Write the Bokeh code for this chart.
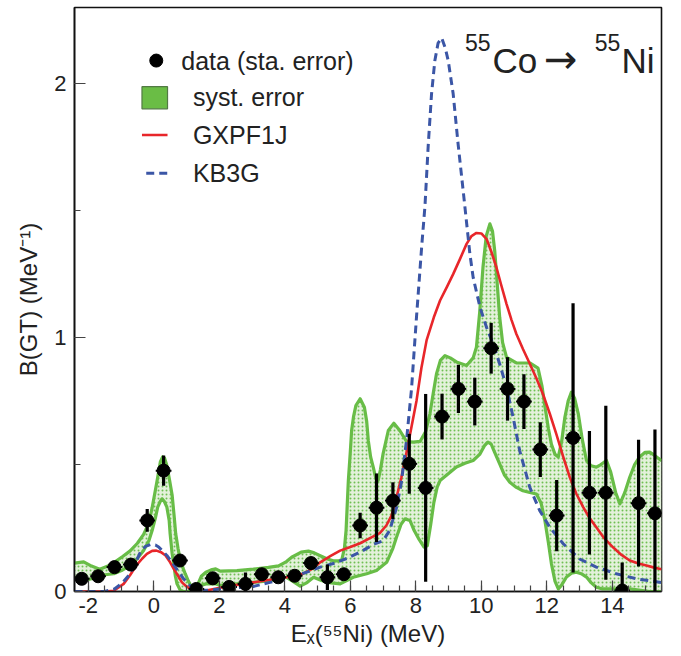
import numpy as np
from bokeh.plotting import figure
from bokeh.models import SingleIntervalTicker
from bokeh.core.properties import value
from bokeh.embed import file_html
from bokeh.resources import INLINE

# ---------------- data ----------------
data_x = [-2.2, -1.7, -1.2, -0.7, -0.2, 0.3, 0.8, 1.3, 1.8, 2.3, 2.8, 3.3, 3.8, 4.3,
          4.8, 5.3, 5.8, 6.3, 6.8, 7.3, 7.8, 8.3, 8.8, 9.3, 9.8, 10.3, 10.8, 11.3,
          11.8, 12.3, 12.8, 13.3, 13.8, 14.3, 14.8, 15.3]
data_y = [0.05, 0.06, 0.096, 0.106, 0.28, 0.476, 0.122, 0.01, 0.052, 0.018, 0.03, 0.068,
          0.056, 0.062, 0.112, 0.056, 0.068, 0.26, 0.33, 0.358, 0.503, 0.408, 0.689, 0.798,
          0.748, 0.958, 0.798, 0.748, 0.559, 0.299, 0.605, 0.389, 0.389, 0.004, 0.348, 0.308]
data_err = [0.02, 0.02, 0.02, 0.02, 0.045, 0.06, 0.02, 0.015, 0.02, 0.015, 0.045, 0.02,
            0.02, 0.02, 0.02, 0.05, 0.02, 0.05, 0.135, 0.072, 0.118, 0.37, 0.09, 0.095,
            0.094, 0.1, 0.125, 0.108, 0.108, 0.14, 0.53, 0.243, 0.343, 0.11, 0.25, 0.33]

syst_up_x = [-2.42, -2.14, -1.9, -1.65, -1.4, -1.17, -0.95, -0.72, -0.5, -0.31, -0.15, -0.05,
             0.05, 0.12, 0.2, 0.27, 0.33, 0.4, 0.48, 0.56, 0.62, 0.67, 0.74, 0.81, 0.9, 0.96,
             1.06, 1.16, 1.25, 1.35, 1.45, 1.59, 1.75, 1.89, 2.03, 2.54, 3.04, 3.5, 3.81, 4.05,
             4.21, 4.5, 4.72, 4.9, 5.08, 5.3, 5.48, 5.65, 5.74, 5.82, 5.87, 5.94, 6.0, 6.04,
             6.1, 6.17, 6.3, 6.43, 6.5, 6.55, 6.62, 6.7, 6.78, 6.85, 6.92, 7.0, 7.16, 7.33,
             7.51, 7.72, 7.92, 8.13, 8.3, 8.43, 8.53, 8.63, 8.75, 8.89, 9.05, 9.24, 9.55, 9.75,
             9.85, 9.95, 10.05, 10.15, 10.26, 10.34, 10.41, 10.48, 10.56, 10.65, 10.77, 11.07,
             11.48, 11.73, 11.85, 11.94, 12.05, 12.14, 12.25, 12.35, 12.45, 12.55, 12.65, 12.75,
             12.85, 12.96, 13.08, 13.21, 13.35, 13.51, 13.65, 13.82, 13.95, 14.1, 14.23, 14.38,
             14.53, 14.68, 14.83, 15.0, 15.14, 15.3, 15.5]
syst_up_y = [0.112, 0.117, 0.1, 0.088, 0.1, 0.118, 0.138, 0.16, 0.19, 0.225, 0.27, 0.33,
             0.4, 0.45, 0.51, 0.53, 0.525, 0.496, 0.44, 0.38, 0.3, 0.227, 0.17, 0.123, 0.09,
             0.07, 0.04, 0.017, 0.01, 0.03, 0.06, 0.076, 0.085, 0.089, 0.08, 0.082, 0.088,
             0.095, 0.101, 0.118, 0.135, 0.155, 0.159, 0.152, 0.141, 0.128, 0.121, 0.121,
             0.125, 0.17, 0.24, 0.437, 0.55, 0.634, 0.69, 0.732, 0.759, 0.726, 0.67, 0.594,
             0.53, 0.49, 0.445, 0.437, 0.48, 0.542, 0.634, 0.663, 0.634, 0.59, 0.588, 0.591,
             0.63, 0.7, 0.78, 0.857, 0.91, 0.929, 0.92, 0.904, 0.89, 0.92, 0.962, 1.1, 1.277,
             1.4, 1.448, 1.42, 1.34, 1.22, 1.08, 0.98, 0.922, 0.9, 0.9, 0.88, 0.81, 0.73, 0.64,
             0.58, 0.54, 0.53, 0.59, 0.686, 0.75, 0.785, 0.76, 0.7, 0.6, 0.516, 0.495, 0.49,
             0.5, 0.516, 0.47, 0.39, 0.345, 0.39, 0.45, 0.5, 0.53, 0.548, 0.549, 0.535, 0.515]

syst_lo_x = [-2.42, -2.14, -1.9, -1.68, -1.22, -0.95, -0.72, -0.5, -0.31, -0.15, -0.05, 0.05,
             0.12, 0.2, 0.25, 0.32, 0.4, 0.47, 0.5, 0.56, 0.61, 0.66, 0.71, 0.81, 0.9, 1.16,
             1.3, 1.45, 1.6, 1.9, 2.03, 2.54, 3.04, 3.55, 4.05, 4.25, 4.47, 4.68, 4.88, 5.08,
             5.28, 5.69, 6.09, 6.5, 6.8, 7.11, 7.3, 7.41, 7.55, 7.67, 7.82, 7.95, 8.1, 8.25,
             8.35, 8.45, 8.55, 8.65, 8.74, 9.0, 9.24, 9.5, 9.75, 9.95, 10.1, 10.2, 10.3, 10.4,
             10.56, 10.7, 10.87, 11.07, 11.27, 11.48, 11.68, 11.82, 11.94, 12.05, 12.14, 12.25,
             12.35, 12.45, 12.6, 12.75, 12.9, 13.05, 13.21, 13.35, 13.51, 13.7, 13.92, 14.53,
             15.14, 15.5]
syst_lo_y = [0.056, 0.043, 0.05, 0.063, 0.07, 0.085, 0.102, 0.13, 0.161, 0.2, 0.24, 0.29,
             0.332, 0.355, 0.365, 0.355, 0.332, 0.28, 0.227, 0.15, 0.109, 0.06, 0.03, 0.005,
             0.0, 0.0, 0.01, 0.025, 0.03, 0.03, 0.024, 0.03, 0.036, 0.043, 0.056, 0.04, 0.021,
             0.035, 0.056, 0.045, 0.036, 0.03, 0.056, 0.07, 0.083, 0.115, 0.17, 0.214, 0.265,
             0.286, 0.28, 0.24, 0.205, 0.175, 0.18, 0.26, 0.35, 0.41, 0.437, 0.465, 0.49, 0.505,
             0.516, 0.54, 0.575, 0.588, 0.58, 0.55, 0.503, 0.46, 0.43, 0.41, 0.397, 0.39, 0.384,
             0.35, 0.28, 0.19, 0.109, 0.04, 0.01, 0.025, 0.057, 0.072, 0.076, 0.07, 0.057,
             0.035, 0.017, 0.01, 0.01, 0.01, 0.0, 0.0]

gxpf1j_x = [-2.42, -1.5, -1.22, -0.92, -0.72, -0.52, -0.35, -0.21, -0.05, 0.08, 0.22, 0.36,
            0.5, 0.61, 0.75, 0.86, 1.0, 1.12, 1.3, 1.6, 2.03, 2.5, 3.04, 3.5, 4.05, 4.56, 4.85,
            5.08, 5.4, 5.69, 6.0, 6.3, 6.6, 6.9, 7.1, 7.26, 7.41, 7.56, 7.72, 7.87, 8.02, 8.17,
            8.33, 8.55, 8.74, 8.95, 9.14, 9.35, 9.55, 9.7, 9.85, 10.0, 10.16, 10.3, 10.46, 10.6,
            10.77, 10.92, 11.07, 11.27, 11.48, 11.68, 11.88, 12.09, 12.29, 12.5, 12.7, 12.9,
            13.11, 13.3, 13.51, 13.75, 14.02, 14.27, 14.53, 14.8, 15.04, 15.25, 15.5]
gxpf1j_y = [0.0, 0.0, 0.003, 0.03, 0.065, 0.105, 0.13, 0.148, 0.16, 0.161, 0.155, 0.142,
            0.115, 0.089, 0.06, 0.036, 0.02, 0.01, 0.004, 0.004, 0.015, 0.025, 0.036, 0.045,
            0.056, 0.07, 0.09, 0.115, 0.14, 0.161, 0.175, 0.19, 0.21, 0.23, 0.26, 0.3, 0.37,
            0.45, 0.55, 0.65, 0.75, 0.88, 0.99, 1.08, 1.146, 1.2, 1.25, 1.31, 1.369, 1.4,
            1.412, 1.41, 1.388, 1.34, 1.277, 1.21, 1.132, 1.07, 1.014, 0.955, 0.897, 0.84,
            0.778, 0.7, 0.62, 0.53, 0.45, 0.385, 0.332, 0.29, 0.253, 0.21, 0.174, 0.145,
            0.122, 0.11, 0.102, 0.095, 0.088]

kb3g_x = [-2.42, -1.5, -1.2, -0.95, -0.72, -0.55, -0.41, -0.25, -0.1, 0.05, 0.15, 0.4, 0.66,
          0.91, 1.16, 1.4, 1.7, 2.03, 2.55, 3.04, 3.55, 4.05, 4.67, 5.08, 5.48, 5.89, 6.3,
          6.7, 7.0, 7.2, 7.41, 7.56, 7.72, 7.87, 8.02, 8.18, 8.28, 8.38, 8.48, 8.58, 8.68,
          8.79, 8.9, 8.99, 9.14, 9.29, 9.5, 9.65, 9.75, 9.96, 10.16, 10.36, 10.56, 10.77,
          10.97, 11.17, 11.48, 11.78, 12.09, 12.5, 13.0, 13.51, 14.12, 14.73, 15.5]
kb3g_y = [0.0, 0.0, 0.01, 0.035, 0.07, 0.115, 0.155, 0.178, 0.185, 0.183, 0.175, 0.142,
          0.096, 0.05, 0.017, 0.005, 0.005, 0.01, 0.015, 0.02, 0.036, 0.05, 0.076, 0.096,
          0.11, 0.13, 0.155, 0.185, 0.2, 0.24, 0.33, 0.43, 0.6, 0.8, 1.08, 1.36, 1.52, 1.76,
          1.96, 2.09, 2.16, 2.18, 2.14, 2.09, 1.96, 1.763, 1.513, 1.33, 1.237, 1.119, 1.04,
          0.975, 0.896, 0.804, 0.686, 0.555, 0.41, 0.319, 0.253, 0.188, 0.128, 0.096, 0.07,
          0.05, 0.035]

x_ticks = [-2, 0, 2, 4, 6, 8, 10, 12, 14]
x_tick_labels = ["-2", "0", "2", "4", "6", "8", "10", "12", "14"]
y_ticks = [0, 1, 2]
y_tick_labels = ["0", "1", "2"]

legend_labels = ["data (sta. error)", "syst. error", "GXPF1J", "KB3G"]

# ---------------- styles ----------------
FONT = "Liberation Sans"
GREEN = "#68bd47"
RED = "#e8262a"
BLUE = "#3b56a6"
TXT = "#222222"

p = figure(width=681, height=656, x_range=(-2.42, 15.5), y_range=(0.0, 2.3),
           output_backend="svg", toolbar_location=None,
           min_border_left=74, min_border_right=20, min_border_top=7, min_border_bottom=65)
p.background_fill_color = "white"
p.border_fill_color = "white"
p.grid.visible = False
p.outline_line_color = "#111111"
p.outline_line_width = 1.6
p.outline_line_alpha = 1.0

# systematic error band
band_x = list(syst_up_x) + list(syst_lo_x[::-1])
band_y = list(syst_up_y) + list(syst_lo_y[::-1])
p.patch(band_x, band_y, fill_color="#e3f1da", fill_alpha=1.0, line_color=None,
        hatch_pattern="dot", hatch_color="#6fbf52", hatch_scale=4, hatch_weight=1.3)
p.line(syst_up_x, syst_up_y, line_color=GREEN, line_width=3.2, line_join="round")
p.line(syst_lo_x, syst_lo_y, line_color=GREEN, line_width=3.2, line_join="round")

# model curves
p.line(gxpf1j_x, gxpf1j_y, line_color=RED, line_width=2.6, line_join="round")
p.line(kb3g_x, kb3g_y, line_color=BLUE, line_width=3, line_dash="8 5", line_join="round")

# data with statistical errors
dx = np.array(data_x)
dy = np.array(data_y)
de = np.array(data_err)
p.segment(dx, dy - de, dx, dy + de, line_color="black", line_width=3.2)
p.segment(dx - 0.24, dy, dx + 0.24, dy, line_color="black", line_width=2)
p.scatter(dx, dy, size=13, fill_color="black", line_color="black")

# legend (drawn by hand)
p.scatter([0.076], [2.091], size=13, fill_color="black", line_color="black")
p.quad(left=[-0.36], right=[0.42], bottom=[1.901], top=[1.988],
       fill_color="#6abd45", line_color="#527a44", line_width=1.2)
p.line([-0.36, 0.42], [1.798, 1.798], line_color=RED, line_width=2.6)
p.line([-0.23, 0.42], [1.647, 1.647], line_color=BLUE, line_width=3, line_dash="8 5")
p.text(x=[0.84, 1.195, 1.195, 1.195], y=[2.091, 1.946, 1.798, 1.647], text=legend_labels,
       text_font=value(FONT), text_font_size="25px", text_color=TXT,
       text_baseline="middle", text_align="left")

# reaction label
p.text(x=[10.34, 14.28], y=[2.093, 2.093], text=["Co", "Ni"], text_font=value(FONT),
       text_font_size="35px", text_color=TXT, text_baseline="alphabetic", text_align="left")
p.text(x=[9.5, 13.46], y=[2.163, 2.163], text=["55", "55"], text_font=value(FONT),
       text_font_size="23px", text_color=TXT, text_baseline="alphabetic", text_align="left")
p.text(x=[11.91], y=[2.099], text=["\u2192"], text_font=value("DejaVu Sans"),
       text_font_size="40px", text_color=TXT, text_baseline="alphabetic", text_align="left")

# axes
p.xaxis.ticker = SingleIntervalTicker(interval=2, num_minor_ticks=4)
p.yaxis.ticker = SingleIntervalTicker(interval=1, num_minor_ticks=2)
p.xaxis.major_label_overrides = {float(t): s for t, s in zip(x_ticks, x_tick_labels)}
p.yaxis.major_label_overrides = {float(t): s for t, s in zip(y_ticks, y_tick_labels)}
for ax in (p.xaxis, p.yaxis):
    ax.axis_line_color = "#111111"
    ax.axis_line_width = 1.6
    ax.major_tick_in = 11
    ax.major_tick_out = 0
    ax.minor_tick_in = 6
    ax.minor_tick_out = 0
    ax.major_tick_line_color = "#444444"
    ax.minor_tick_line_color = "#444444"
    ax.major_tick_line_width = 1.2
    ax.minor_tick_line_width = 1.2
    ax.major_label_text_font = FONT
    ax.major_label_text_font_size = "22px"
    ax.major_label_text_color = TXT
    ax.axis_label_text_font = FONT
    ax.axis_label_text_font_size = "24px"
    ax.axis_label_text_font_style = "normal"
    ax.axis_label_text_color = TXT

p.xaxis.axis_label = "E\u2093(\u2075\u2075Ni) (MeV)"
p.yaxis.axis_label = "B(GT) (MeV\u207b\u00b9)"
p.xaxis.major_label_standoff = 6
p.xaxis.axis_label_standoff = 4
p.yaxis.major_label_standoff = 8
p.yaxis.axis_label_standoff = 9

open("out.html", "w").write(file_html(p, INLINE))
